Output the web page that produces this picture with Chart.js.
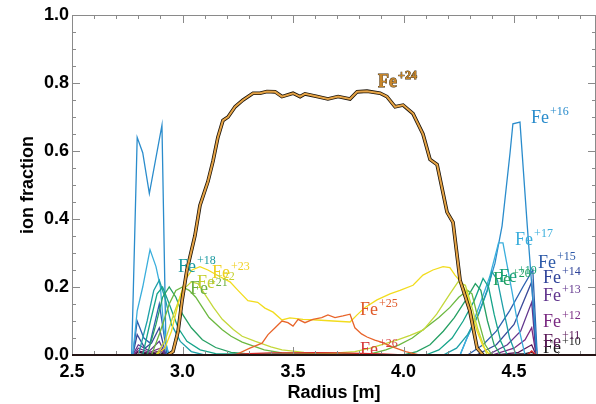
<!DOCTYPE html>
<html>
<head>
<meta charset="utf-8">
<script src="https://cdn.jsdelivr.net/npm/chart.js@4.4.0/dist/chart.umd.min.js"></script>
<style>
  html, body { margin: 0; padding: 0; background: #fff; }
</style>
</head>
<body>
<canvas id="ionChart" width="596" height="404"></canvas>
<script>
// ion fraction profiles, [radius (m), fraction] pairs
const fe10 = [[2.78,0],[2.80,0.008],[2.84,0.003],[2.90,0.006],[2.93,0],[4.45,0],[4.55,0.004],[4.58,0.008],[4.60,0]];
const fe11 = [[2.78,0],[2.80,0.012],[2.85,0.005],[2.90,0.012],[2.93,0],[4.42,0],[4.52,0.008],[4.58,0.03],[4.60,0]];
const fe12 = [[2.78,0],[2.80,0.02],[2.85,0.008],[2.90,0.02],[2.93,0],[4.40,0],[4.50,0.02],[4.55,0.045],[4.58,0.08],[4.60,0]];
const fe13 = [[2.775,0],[2.80,0.03],[2.85,0.012],[2.895,0.04],[2.925,0],[4.38,0],[4.47,0.03],[4.53,0.07],[4.58,0.155],[4.60,0]];
const fe14 = [[2.775,0],[2.795,0.06],[2.83,0.02],[2.86,0.035],[2.895,0.08],[2.925,0],[4.33,0],[4.42,0.03],[4.50,0.09],[4.58,0.215],[4.60,0]];
const fe15 = [[2.775,0],[2.795,0.10],[2.825,0.05],[2.853,0.035],[2.895,0.15],[2.93,0],[4.29,0],[4.36,0.03],[4.42,0.07],[4.48,0.13],[4.54,0.2],[4.585,0.25],[4.605,0]];
const fe16 = [[2.77,0],[2.795,0.64],[2.82,0.595],[2.85,0.475],[2.907,0.676],[2.925,0.03],[2.94,0],[4.256,0],[4.287,0.05],[4.333,0.11],[4.378,0.19],[4.414,0.27],[4.446,0.38],[4.482,0.594],[4.495,0.68],[4.527,0.685],[4.56,0.38],[4.604,0]];
const fe17 = [[2.775,0],[2.795,0.13],[2.82,0.2],[2.853,0.31],[2.88,0.26],[2.90,0.2],[2.915,0.08],[2.935,0],[4.256,0],[4.30,0.07],[4.346,0.15],[4.39,0.23],[4.43,0.33],[4.45,0.33],[4.49,0.19],[4.516,0.095],[4.55,0]];
const fe18 = [[2.80,0],[2.84,0.1],[2.87,0.19],[2.895,0.22],[2.92,0.17],[2.95,0.09],[2.99,0.04],[3.04,0.01],[3.10,0],[4.18,0],[4.24,0.02],[4.29,0.06],[4.34,0.12],[4.38,0.19],[4.40,0.245],[4.425,0.22],[4.45,0.14],[4.48,0.05],[4.51,0]];
const fe19 = [[2.82,0],[2.855,0.1],[2.885,0.18],[2.91,0.2],[2.94,0.15],[2.98,0.08],[3.02,0.04],[3.08,0.015],[3.15,0.004],[4.10,0],[4.16,0.015],[4.22,0.05],[4.27,0.1],[4.32,0.16],[4.36,0.225],[4.385,0.2],[4.41,0.12],[4.44,0.04],[4.47,0]];
const fe20 = [[2.84,0],[2.88,0.09],[2.91,0.17],[2.94,0.2],[2.97,0.17],[3.00,0.12],[3.04,0.08],[3.09,0.045],[3.15,0.022],[3.22,0.008],[3.30,0.003],[4.00,0],[4.06,0.01],[4.12,0.03],[4.18,0.07],[4.23,0.11],[4.28,0.16],[4.325,0.21],[4.35,0.19],[4.38,0.1],[4.41,0.03],[4.44,0]];
const fe21 = [[2.86,0],[2.90,0.07],[2.94,0.15],[2.97,0.19],[3.00,0.2],[3.03,0.19],[3.06,0.17],[3.09,0.14],[3.12,0.11],[3.18,0.074],[3.22,0.055],[3.27,0.038],[3.37,0.015],[3.45,0.006],[3.60,0.004],[3.85,0.003],[3.92,0.015],[3.98,0.03],[4.04,0.05],[4.10,0.08],[4.16,0.11],[4.21,0.14],[4.25,0.17],[4.29,0.19],[4.31,0.18],[4.34,0.1],[4.37,0.03],[4.40,0]];
const fe22 = [[2.88,0],[2.92,0.04],[2.96,0.12],[3.00,0.19],[3.04,0.215],[3.07,0.21],[3.10,0.18],[3.14,0.14],[3.18,0.105],[3.23,0.075],[3.27,0.055],[3.33,0.04],[3.40,0.024],[3.45,0.015],[3.55,0.008],[3.70,0.006],[3.78,0.01],[3.85,0.02],[3.97,0.044],[4.03,0.058],[4.09,0.074],[4.15,0.12],[4.21,0.18],[4.247,0.215],[4.28,0.205],[4.31,0.14],[4.337,0.074],[4.378,0]];
const fe23 = [[2.88,0],[2.92,0.02],[2.95,0.07],[2.98,0.15],[3.011,0.22],[3.043,0.25],[3.079,0.26],[3.115,0.25],[3.17,0.23],[3.215,0.215],[3.251,0.19],[3.296,0.16],[3.34,0.155],[3.373,0.138],[3.41,0.126],[3.45,0.103],[3.486,0.109],[3.545,0.105],[3.609,0.103],[3.681,0.1],[3.758,0.097],[3.79,0.118],[3.826,0.14],[3.88,0.162],[3.939,0.18],[3.984,0.19],[4.043,0.205],[4.088,0.235],[4.133,0.25],[4.179,0.26],[4.21,0.257],[4.233,0.235],[4.265,0.21],[4.287,0.18],[4.31,0.12],[4.333,0.07],[4.36,0.025],[4.39,0]];
const fe24 = [[2.934,0],[2.957,0.01],[2.98,0.07],[2.998,0.16],[3.02,0.25],[3.056,0.35],[3.079,0.44],[3.115,0.51],[3.138,0.57],[3.16,0.64],[3.183,0.69],[3.206,0.70],[3.238,0.73],[3.274,0.75],[3.319,0.77],[3.351,0.77],[3.382,0.775],[3.419,0.774],[3.45,0.76],[3.50,0.77],[3.532,0.76],[3.554,0.768],[3.609,0.76],[3.658,0.753],[3.704,0.76],[3.758,0.753],[3.79,0.774],[3.835,0.776],[3.894,0.77],[3.925,0.76],[3.962,0.73],[3.998,0.735],[4.043,0.71],[4.088,0.65],[4.12,0.575],[4.152,0.56],[4.197,0.42],[4.224,0.39],[4.256,0.22],[4.30,0.13],[4.333,0.02],[4.36,0]];
const fe25 = [[3.238,0],[3.305,0.02],[3.36,0.035],[3.387,0.06],[3.419,0.08],[3.45,0.10],[3.477,0.095],[3.50,0.085],[3.523,0.105],[3.554,0.095],[3.59,0.105],[3.63,0.11],[3.658,0.118],[3.69,0.11],[3.726,0.115],[3.758,0.12],[3.78,0.08],[3.81,0.062],[3.835,0.053],[3.87,0.044],[3.90,0.038],[3.95,0.024],[4.01,0.01],[4.07,0]];
const fe26 = [[3.20,0],[3.30,0.004],[3.40,0.006],[3.50,0.006],[3.60,0.007],[3.70,0.006],[3.80,0.005],[3.90,0.003],[4.00,0],[4.56,0],[4.58,0.012],[4.60,0]];

const charges = [10, 11, 12, 13, 14, 15, 16, 17, 18, 19, 20, 21, 22, 23, 24, 25, 26];
const profiles = [fe10, fe11, fe12, fe13, fe14, fe15, fe16, fe17, fe18, fe19, fe20, fe21, fe22, fe23, fe24, fe25, fe26];
const lineColors = ['#2a1a2e', '#5a1858', '#7a2a82', '#62368e', '#3a4a9a', '#2d62b0', '#2a8ccc', '#3aaedc',
  '#1ea0a8', '#16a48a', '#26a064', '#6cb840', '#c4d83a', '#f2dc1e', '#e6a446', '#e8642a', '#d62a2a'];
const labelColors = ['#1a1a1a', '#5a1858', '#7a2a82', '#62368e', '#30449a', '#2d5aa8', '#2a8ccc', '#3aaedc',
  '#1a9aa0', '#16a07a', '#20a060', '#6cb040', '#c4d030', '#f0d020', '#c8862a', '#e05a2a', '#d63a3a'];

// where each "Fe+n" tag sits, in axis units (left edge, baseline)
const tagRadius = [4.631, 4.631, 4.631, 4.631, 4.631, 4.609, 4.577, 4.505, 2.98, 4.432, 4.405, 3.034, 3.066, 3.133, 3.885, 3.803, 3.803];
const tagFraction = [0.006, 0.024, 0.082, 0.159, 0.212, 0.256, 0.682, 0.324, 0.244, 0.215, 0.206, 0.179, 0.197, 0.226, 0.788, 0.118, 0.0];

const xTickStep = 0.5;
const yTickStep = 0.2;

const toPoints = p => p.map(([x, y]) => ({ x, y }));

const datasets = profiles.map((p, i) => ({
  label: 'Fe+' + charges[i],
  data: toPoints(p),
  borderColor: lineColors[i],
  borderWidth: charges[i] === 24 ? 2 : 1.3,
  order: charges[i] === 24 ? 0 : 2 + (26 - charges[i]),
}));
// dark edge under the Fe+24 curve
datasets.push({
  label: 'Fe+24 edge',
  data: toPoints(fe24),
  borderColor: '#1a1208',
  borderWidth: 3.6,
  order: 1,
});

const frameTicks = {
  id: 'frameTicks',
  afterDraw(chart) {
    const { ctx, chartArea: a, scales: { x, y } } = chart;
    ctx.save();
    ctx.strokeStyle = '#8a8a8a';
    ctx.lineWidth = 1;
    ctx.beginPath();
    ctx.moveTo(a.left + 0.5, a.bottom);
    ctx.lineTo(a.left + 0.5, a.top + 0.5);
    ctx.lineTo(a.right - 0.5, a.top + 0.5);
    ctx.lineTo(a.right - 0.5, a.bottom);
    // minor ticks every 0.05 on y, 0.1 on x; major ones longer
    for (let k = 0; k <= 20; k++) {
      const py = Math.round(y.getPixelForValue(k * 0.05)) + 0.5;
      const len = k % 4 === 0 ? 8 : 4;
      ctx.moveTo(a.left, py); ctx.lineTo(a.left + len, py);
      ctx.moveTo(a.right, py); ctx.lineTo(a.right - len, py);
    }
    for (let k = 0; k <= 23; k++) {
      const v = 2.5 + k * 0.1;
      if (v > x.max) break;
      const px = Math.round(x.getPixelForValue(v)) + 0.5;
      const len = k % 5 === 0 ? 8 : 4;
      ctx.moveTo(px, a.bottom); ctx.lineTo(px, a.bottom - len);
      ctx.moveTo(px, a.top); ctx.lineTo(px, a.top + len);
    }
    ctx.stroke();
    ctx.strokeStyle = '#241414';
    ctx.lineWidth = 2;
    ctx.beginPath();
    ctx.moveTo(a.left, a.bottom);
    ctx.lineTo(a.right, a.bottom);
    ctx.stroke();
    ctx.restore();
  }
};

const ionTags = {
  id: 'ionTags',
  afterDatasetsDraw(chart) {
    const { ctx, scales: { x, y } } = chart;
    ctx.save();
    ctx.textBaseline = 'alphabetic';
    ctx.textAlign = 'left';
    charges.forEach((q, i) => {
      const px = x.getPixelForValue(tagRadius[i]);
      const py = y.getPixelForValue(tagFraction[i]);
      const bold = q === 24 ? 'bold ' : '';
      ctx.fillStyle = labelColors[i];
      ctx.font = bold + '18px "Liberation Serif", serif';
      if (q === 24) {
        ctx.strokeStyle = '#3a2a10';
        ctx.lineWidth = 0.8;
        ctx.strokeText('Fe', px, py);
      }
      ctx.fillText('Fe', px, py);
      const w = ctx.measureText('Fe').width;
      ctx.font = bold + '12px "Liberation Serif", serif';
      if (q === 24) ctx.strokeText('+' + q, px + w + 1, py - 8);
      ctx.fillText('+' + q, px + w + 1, py - 8);
    });
    ctx.restore();
  }
};

const axisFont = { family: '"Liberation Sans", Arial, sans-serif', size: 18, weight: 'bold' };

new Chart(document.getElementById('ionChart'), {
  type: 'line',
  data: { datasets },
  options: {
    responsive: false,
    animation: false,
    layout: { padding: { top: 15, right: 0, left: 0, bottom: 0 } },
    elements: { point: { radius: 0 }, line: { tension: 0 } },
    plugins: { legend: { display: false }, tooltip: { enabled: false } },
    scales: {
      x: {
        type: 'linear',
        min: 2.5,
        max: 4.871,
        grid: { display: false, drawTicks: false },
        border: { display: false },
        ticks: {
          stepSize: xTickStep,
          includeBounds: false,
          autoSkip: false,
          maxRotation: 0,
          padding: 6,
          color: '#000',
          font: axisFont,
          callback: v => v.toFixed(1),
        },
        title: { display: true, text: 'Radius [m]', color: '#000', font: axisFont, padding: { top: 0, bottom: 0 } },
        afterFit: s => { s.height = 49; },
      },
      y: {
        min: 0,
        max: 1,
        grid: { display: false, drawTicks: false },
        border: { display: false },
        ticks: {
          stepSize: yTickStep,
          autoSkip: false,
          padding: 3,
          color: '#000',
          font: axisFont,
          callback: v => v.toFixed(1),
        },
        title: { display: true, text: 'ion fraction', color: '#000', font: axisFont, padding: { top: 17, bottom: 0 } },
        afterFit: s => { s.width = 72; },
      },
    },
  },
  plugins: [frameTicks, ionTags],
});
</script>
</body>
</html>
